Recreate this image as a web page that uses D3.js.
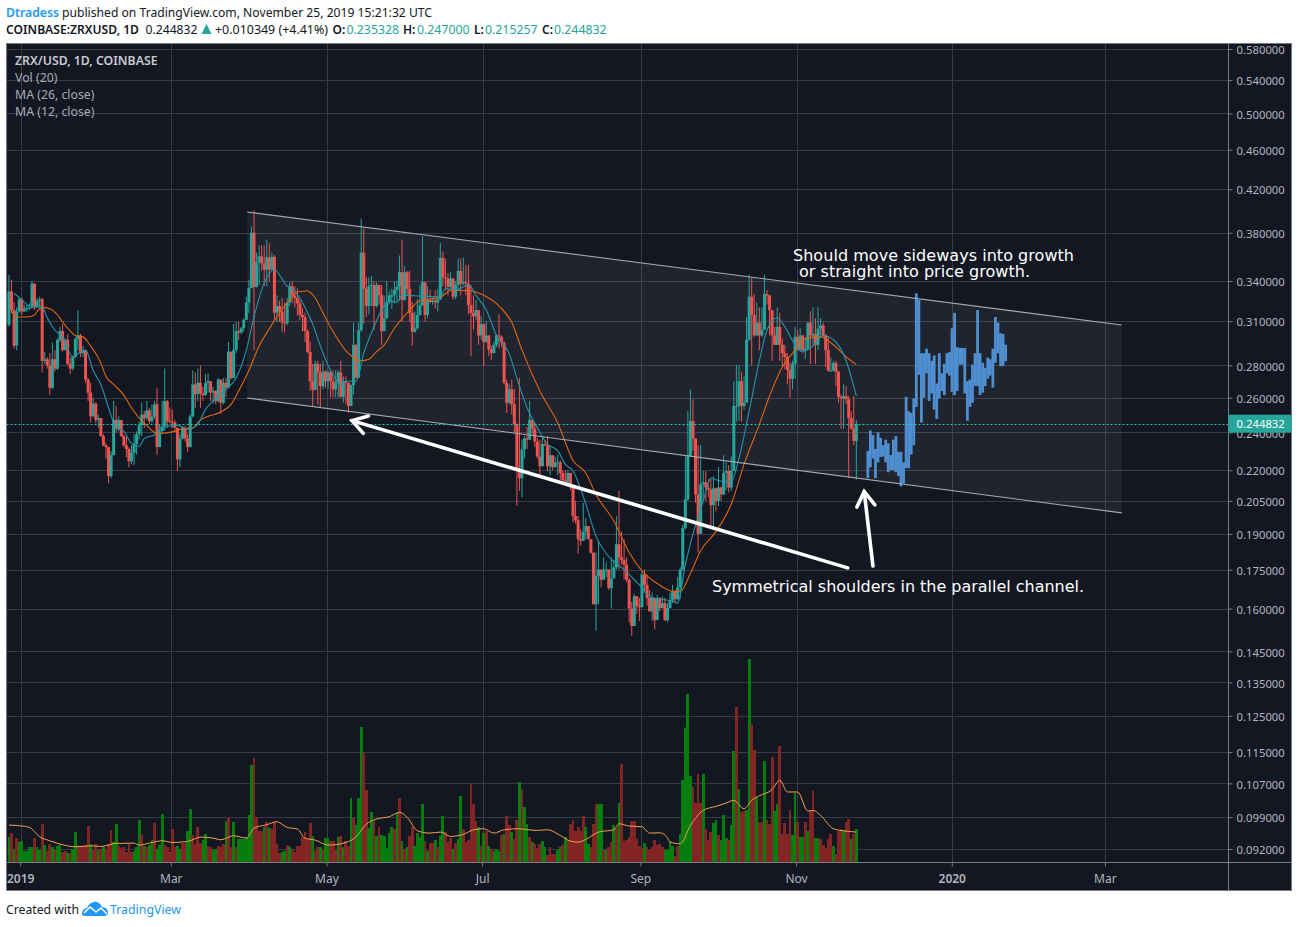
<!DOCTYPE html>
<html><head><meta charset="utf-8">
<script src="https://cdn.jsdelivr.net/npm/d3@7"></script>
<style>
html,body{margin:0;padding:0;background:#fff}
svg{display:block}
text{font-family:"Noto Sans",sans-serif}
</style></head><body><div id="c"></div>
<script>
// prices are in thousandths of a US dollar (mUSD); bars are daily and start 2018-12-28
const firstDay = Date.UTC(2018,11,28);
const firstOpen = 307.5;
const closes = [
332,318,293,317,326,317,319,319.5,320,338,320,
325,326,283,284,280,266,284,278,297,303,
290,297,281,278,285.5,297.5,300,288,290,271,
263,249,256.5,247,248,238,233,232,217,227.7,
247,242,247,238,233,231,224.6,229,233.7,239,244,
250,248,252.5,246.3,249,256,232,240.7,243.5,258,
246.3,246,245.5,242.5,225.5,236.7,242.5,236.7,232,249,
268,262,269,262.5,261.5,268.8,270,263,264,258,
271,257,269,266,289,272,290,303,302,305,
311,323.6,334.5,380,335.5,355,360,354,349,359,
349,359.5,316,321,317,309,308.5,323.5,336,329,
327,323,314.5,313,303,288.8,270,264.6,281,275.5,
267,276,270,275.5,270,265,269,275.5,
260.5,270,269,255,267.5,293.6,272.3,303.6,363,334,
321,336,337,321,337,329.3,303,312,324,329,
329,333,335.5,347,325.6,347,334,316,302.6,305,
314.5,321.6,339,314.5,325.6,324,325,323.6,326,358.6,
343,342,335.5,342,328,337,348,338,339,338,
321.6,316,313.4,318,300,308,295.5,300,290.4,288,
293.6,300,299,295,269,257,265,256,244.6,220.5,
216,230.8,236.7,236,247,242,235,227,222,233.7,
233,222,227.7,221.5,224,224,218.6,215,214,218.6,
211.4,197.9,196,187.7,187,191,193.5,187.7,182,161.6,
172.5,175,171,175,175,167.7,171.5,176,185.5,180,
179,177,171,160,153.7,164.6,161,160.5,173,169,
164,159,164,155.8,164,160.2,162,155.8,160.2,163,
166.5,163.5,168,175,192.6,205.7,227.2,246.3,236.7,208,
190,213,214,211.4,210.5,203,211,205,211.4,208,
218.6,219.6,211.4,219.6,255,255,270,255,257,297,
328,314.5,300,309,300,304,330,329,318,300,
293.6,306,293.6,288,285.5,277,271.5,281,299,290,
300,290,291,309,300,301,293.6,304.8,307,300,
290,276.7,276.7,281.6,276,260.5,259.5,261,259,248,
242,235.3,244.832];
const highs = [
345,341,324,320,327,327,322,322,323,340,337,
327,328,327,289,285.5,288,295,290,298,306,
308,298,301,285,286.5,299,318,301,293,288,
272,269,260,257,250,248,239,234,232,230,
258,255,249,247,239,237.7,232,233,239,240.5,246,
257,252,258,254,256,258,266,244.5,258,278,
258.5,254,253,247,242.5,239,243.5,243.5,239,250,
276.7,275.5,278,280,266.5,274.5,275,270,266.5,264.5,
272,271,272,272,295.5,288,308,309.5,309.5,306,
312,328,341,385.5,400,363,369,369,369,374,
371,363,361,329,325,327,323.5,327,339,340,
336,334.5,325.6,319.5,316,304,296,281,283,283,
281,283,277,277,277,276.7,277,277,
283,273,273,267.5,268,309,294,309,392.5,384,
343,343,344,340,339,337,337,329,340,332,
334,340,340,360.6,374,352,348,348,324,317,
326,337,377,338,336,333,327,333,334,371,
364,358,346,347,341,340,358,358,359,353,
353,337,329,325.6,318,313.5,308,310,300,293,
296,301,315,300,296,271,268,271,265,245,
272,236,238,243,258,247,245,237,236,237,
236,238,233,227,227,228,225,220,220,220,
218,211.4,205,198,192,204,197,193.5,187.7,182,
182,187,175,180,178,175,180,179,198,209.7,
191,187.7,180,171.5,162.5,165.5,164.6,164,174,175,
173,167,166,164,165,164,164.5,164,162,166,
169,167,172,176,194,227,252,264.8,259,236.7,
233,233,219.6,219.6,215.5,215.5,217,211.4,221.5,212,
227.7,224,222.5,227,270,280,280,276,273,313,
345,342.5,330,323.5,320,320,345,333,329,318,
306,320,316,298,293.6,288,282,283,306,303.5,
305,300,298,309,317,320,312,320,312,309,
301,299,285,283,283,276.7,262,268,267,261,
252,261,247];
const lows = [
306,316,291,290,316,314.5,317,317,318,319,318,
319.5,320,275.5,281,278,261.5,265,276,277,295.5,
289,290,280,274.5,276.7,285,290,285.5,285.5,269,
258,245.5,249,245,242.5,237.5,232.5,226,213.5,216,
232,240,240.7,237.5,232,226.6,221.5,223,222.5,228,236,
238,242.5,247,244.5,245,247.5,227.7,232,239,241,
242.5,245,242.5,240.7,219.6,221.5,236,235,229.5,232,
248.5,254,258,254,258,261,263,258,256.5,256,
257,250.5,256,260.5,265.5,271,272,288,297,301,
302.5,311,316,335,290,335,337,348,336,336,
340,349,311,309.5,309.5,302.6,302,307,321,323,
320,314,311,303,295.5,288,264,255,264.6,256,
254,265,266,265.5,260,260,260,260,
260,257,256,251,259.5,262,271.5,272,302.6,308,
313,315,321,303.6,320,322,293.6,307,312,322,
319,323,325,325,309.5,325,329,309.5,292.8,302,
304,314,321,310,312,323,322,319,317,325.6,
336,333,329,333,326,326,333,329,337,329,
315,286,304,311,293.6,297,279.5,295,286,283.5,
288,292,291,292,268,251,256,250,240,202.8,
209.7,206.7,226,231,236,239,232,226,217,222,
232.5,219.5,217.5,220,221.8,217.5,215,213.5,212,212,
210,195,194.5,181.6,185,187,187.7,187.5,181.5,161.5,
152,161.6,168,171,172,167,160,171.5,175,175,
177,171,170,155,150.3,153.7,158,155.5,160.5,166,
161,158.8,155.5,152.5,155.8,159,160,155.5,155,160,
162,162,163,163.5,174.5,192,205,227,230,204,
182,190,205,205,206.6,192.6,192.6,200,202.5,205,
209.7,210,209,209.7,219.6,246,246.5,246,253,257,
296,280,299,300,290,299,305,322,300,283,
293.5,293.6,283,279,277.5,268,260,265,271.5,290,
289,288,284,290,281,293.6,281,290,300,299,
279,276,276,276,267,257,242,242,256,216,
241.5,233,215.257];
// volume in arbitrary units; the sign marks an up day (+) or a down day (-)
const volumes = [
77,-89,40,-73,60,65,33,33,45,47,
-73,45,37,-115,53,-33,-55,47,-40,50,
53,-30,-35,27,-29,40,90,-47,-50,-50,-53,
-110,55,-37,-55,37,-41,45,-40,-55,-97,60,
116,-50,-43,-45,-32,-55,-32,33,47,128,
-83,50,-45,53,67,-119,40,52,145,-53,
-45,-30,-99,-47,50,40,-57,-57,95,161,
-83,-55,-105,-57,67,85,-50,-47,37,40,
-50,-47,-55,123,-133,-45,122,-45,70,70,
70,75,143,293,-313,-137,-95,-95,107,-120,
103,-100,-120,-55,-27,30,33,-53,47,-37,
-30,-50,-50,-75,-90,-70,-117,80,-33,-47,
47,-40,73,73,-65,-63,-37,77,
-80,45,-63,-50,193,-133,113,193,405,-327,
-218,102,152,-125,80,-105,82,80,42,87,
107,-100,148,-193,65,-40,45,-80,-105,50,
89,77,175,-65,35,-57,
-58,68,-46,78,138,-91,-61,-74,41,-58,
71,198,-99,-61,-68,-236,-174,-123,106,-48,
88,-94,48,-41,33,41,33,-81,84,-138,
-111,91,-71,-126,240,-219,165,114,-76,61,
-54,-43,-54,64,46,-23,-45,-24,-24,38,
46,-51,76,-66,-116,-126,-93,-106,-93,-138,
105,54,-46,-116,-176,174,174,-38,38,-46,
-62,111,-103,177,-294,-63,-68,-76,-123,-123,
-71,-48,-44,58,-46,-38,-46,-66,-52,-54,
-46,36,36,63,48,-18,-48,84,248,402,
504,258,-226,-178,-264,-178,266,-99,-68,-91,
118,126,-83,66,141,74,-66,111,333,-466,
219,-152,-153,156,609,-411,-336,196,-121,-121,
303,-126,-116,-316,153,174,-348,-84,-118,-84,
-156,81,209,-121,76,76,-121,94,-156,-213,
72,74,-70,-51,-44,-71,-86,49,-26,-94,
-101,96,-121,-129,69,-84,99];
// moving averages as [bar index, value]
const ma26 = [[1,317],[3,313],[7,313],[10,314.5],[11,317],[13,320],[16,319],[19,314.5],[21,309.5],[23,305],[26,300],[29,299],[32,292.8],[36,281.6],[38,273],[41,268],[45,261.5],[48,254],[51,248],[55,242.5],[57,240],[60,239.5],[64,240.3],[68,242],[72,242.5],[75,247],[78,249],[83,251.5],[87,256],[90,264],[94,276.7],[98,292.8],[102,304.6],[106,316],[110,325.6],[113,331.5],[117,332.3],[120,327],[123,316],[127,302.6],[133,287.8],[138,283],[141,284],[144,289],[147,293.6],[151,305],[156,316],[161,325],[169,327.5],[173,332.7],[180,332.7],[186,329],[192,321],[197,309],[201,290],[208,264],[215,245.3],[221,225],[226,218.6],[230,208],[237,195.7],[243,182],[248,174.5],[254,169.5],[260,166.5],[263,166.4],[267,173.5],[271,182.8],[277,191],[283,203.5],[288,223],[294,244.5],[298,261],[303,279],[308,290],[312,298],[318,299],[323,293.6],[328,285.5],[332,280.5]];
const ma12 = [[2,330.6],[5,325.6],[8,321],[13,320],[15,312.5],[18,303.6],[21,299],[25,285.5],[28,288.8],[30,290],[33,276.7],[36,268],[39,254],[42,242.5],[45,240.7],[48,234],[51,232.5],[53,236.7],[57,238.7],[60,242.5],[66,244],[70,241.7],[74,244.5],[77,253],[80,258],[85,265],[89,272],[93,290],[96,313],[100,338.6],[104,349],[109,336],[112,332.3],[116,320],[119,308],[122,292.8],[126,276.7],[130,268],[132,270],[136,270],[139,288],[143,306],[146,318],[149,324.5],[152,324],[154,329],[161,328.5],[169,327.8],[171,334],[175,333],[180,337],[183,329],[187,318],[191,300],[196,287.7],[199,272],[203,254],[207,242.5],[211,233.5],[215,230],[218,223],[221,219.6],[226,203.5],[230,189],[234,181.6],[241,175],[247,169],[252,164],[260,162.8],[262,162],[265,177],[268,190],[272,205],[275,216],[279,214.5],[283,214.5],[286,226],[290,252],[294,283],[297,303.6],[301,312.5],[304,306],[308,293.6],[311,289],[315,292.8],[319,300],[324,295.5],[328,283],[332,261]];
const volMa = [[0,112],[4,110],[8,105],[12,77],[16,65],[21,53],[26,47],[32,50],[36,48],[42,57],[49,58],[51,52],[55,58],[60,65],[64,60],[70,63],[75,76],[80,73],[83,68],[88,80],[93,73],[96,103],[101,113],[105,122],[109,105],[113,100],[116,73],[120,67],[125,52],[132,60],[136,77],[140,115],[144,130],[149,137],[153,150],[156,135],[160,95],[165,88],[169,91],[173,78],[178,84],[182,98],[186,101],[190,88],[194,98],[199,101],[207,96],[211,98],[216,81],[220,64],[223,61],[226,69],[231,91],[237,98],[239,116],[243,109],[248,107],[251,88],[255,89],[258,74],[259,61],[263,56],[267,111],[272,156],[277,168],[281,178],[284,186],[288,161],[291,186],[294,200],[299,218],[302,246],[305,211],[309,211],[313,154],[315,156],[318,141],[323,101],[326,96],[332,91]];
// projected (bars pattern) path, one high/low per day from 2019-11-29
const ghostFirstDay = Date.UTC(2019,10,29,12);
const ghostHighs = [230,241,238.5,231,240,237,233,236,234,227.8,236,238,229.5,229.5,224,260.5,252,251,259.5,330.5,325.5,288,288,291,288,283,286.5,268.5,288,275,281,288,288.7,305,316,292,291.5,291.5,291.5,270,271,280.5,288,318,288,281.7,278.5,285,284,291,313,309,301.5,301,293.7];
const ghostLows = [216,221.5,226,216,224,226.8,227,224,219,220,220,219,217,212,213.5,221,221,228,233,254.5,274,245.5,260,275,258,262.5,253,247.5,259.5,264,261.5,275,273.5,263.5,261.5,264,280.5,280.5,262.5,246.5,254.5,257,267,267,261.5,263,267,271.5,273.5,266,281.7,288,279.5,279.5,282.7];
const priceTicks = [580,540,500,460,420,380,340,310,280,260,240,220,205,190,175,160,145,135,125,115,107,99,92];
const timeTicks = [[Date.UTC(2019,0,1),"2019"],[Date.UTC(2019,2,1),"Mar"],[Date.UTC(2019,4,1),"May"],[Date.UTC(2019,6,1),"Jul"],[Date.UTC(2019,8,1),"Sep"],[Date.UTC(2019,10,1),"Nov"],[Date.UTC(2020,0,1),"2020"],[Date.UTC(2020,2,1),"Mar"]];
const lastPrice = 244.832;
// channel corners and arrows as [date, mUSD]
const channelTop = [[Date.UTC(2019,2,30,17),398.6],[Date.UTC(2020,2,7,10),307.3]];
const channelBottom = [[Date.UTC(2019,2,30,17),259.8],[Date.UTC(2020,2,7,10),199.4]];
const arrowLong = [[Date.UTC(2019,10,21),175.7],[Date.UTC(2019,4,10,20),246.6]];
const arrowShort = [[Date.UTC(2019,10,30,22),176.5],[Date.UTC(2019,10,27,12),209.4]];
const legendLines = ["ZRX/USD, 1D, COINBASE","Vol (20)","MA (26, close)","MA (12, close)"];

const W=1298,H=927, L=6.5,R=1291.5,T=43.5,B=890.5, AX=1228.5, TY=862.5;
const DAY=864e5, barShift=-1.5;
const svg=d3.select("#c").append("svg").attr("width",W).attr("height",H);
const x=d3.scaleUtc().domain([Date.UTC(2019,0,1),Date.UTC(2020,2,1)]).range([20.7,1105.4]);
const y=d3.scaleLog().domain([92,580]).range([849,49]);
const v=d3.scaleLinear().domain([0,609]).range([TY,659]);
const bx=i=>x(firstDay+i*DAY)+barShift;

svg.append("rect").attr("x",L).attr("y",T).attr("width",R-L).attr("height",B-T).attr("fill","#131722");

// grid
const grid=svg.append("g").attr("stroke","#363a49").attr("shape-rendering","crispEdges");
grid.selectAll(".h").data(priceTicks).join("line").attr("x1",L).attr("x2",AX).attr("y1",d=>Math.round(y(d))+.5).attr("y2",d=>Math.round(y(d))+.5);
grid.selectAll(".v").data(timeTicks).join("line").attr("y1",T).attr("y2",TY).attr("x1",d=>Math.round(x(d[0]))+.5).attr("x2",d=>Math.round(x(d[0]))+.5);

// channel
const pt=d=>[x(d[0]),y(d[1])];
svg.append("path").attr("fill","#ffffff").attr("fill-opacity",.06)
  .attr("d",d3.line()([pt(channelTop[0]),pt(channelTop[1]),pt(channelBottom[1]),pt(channelBottom[0])])+"Z");

// volume
svg.append("g").attr("shape-rendering","crispEdges").selectAll("rect").data(volumes).join("rect")
  .attr("x",(d,i)=>bx(i)-1.4).attr("width",2.8)
  .attr("y",d=>v(Math.abs(d))).attr("height",d=>TY-v(Math.abs(d)))
  .attr("fill",d=>d>=0?"#057d0f":"#842525");
svg.append("path").attr("fill","none").attr("stroke","#f5a04a").attr("stroke-width",1)
  .attr("d",d3.line().curve(d3.curveMonotoneX).x(d=>bx(d[0])).y(d=>v(d[1]))(volMa));

// candles
const candles=closes.map((c,i)=>({i,c,o:i?closes[i-1]:firstOpen,h:highs[i],l:lows[i]}));
const up="#26a69a",down="#ef5350";
const cg=svg.append("g");
cg.selectAll("line").data(candles).join("line")
  .attr("x1",d=>bx(d.i)).attr("x2",d=>bx(d.i))
  .attr("y1",d=>y(Math.max(d.h,d.o,d.c))).attr("y2",d=>y(Math.min(d.l,d.o,d.c)))
  .attr("stroke",d=>d.c>=d.o?up:down).attr("stroke-width",1);
cg.selectAll("rect").data(candles).join("rect")
  .attr("x",d=>bx(d.i)-1.5).attr("width",3)
  .attr("y",d=>y(Math.max(d.o,d.c))).attr("height",d=>Math.max(1,Math.abs(y(d.o)-y(d.c))))
  .attr("fill",d=>d.c>=d.o?up:down);

// moving averages
const maLine=d3.line().curve(d3.curveMonotoneX).x(d=>bx(d[0])).y(d=>y(d[1]));
svg.append("path").attr("fill","none").attr("stroke","#e2650f").attr("stroke-width",1.1).attr("d",maLine(ma26));
svg.append("path").attr("fill","none").attr("stroke","#2196a9").attr("stroke-width",1.1).attr("d",maLine(ma12));

// projection
svg.append("g").selectAll("rect").data(ghostHighs).join("rect")
  .attr("x",(d,i)=>x(ghostFirstDay+i*DAY)+barShift-1.4).attr("width",2.8)
  .attr("y",d=>y(d)).attr("height",(d,i)=>y(ghostLows[i])-y(d)).attr("fill","#4f8fd1");

// channel borders
[channelTop,channelBottom].forEach(c=>svg.append("line")
  .attr("x1",x(c[0][0])).attr("y1",y(c[0][1])).attr("x2",x(c[1][0])).attr("y2",y(c[1][1]))
  .attr("stroke","#a6a8af").attr("stroke-width",1.1));

// last price line
svg.append("line").attr("x1",L).attr("x2",AX).attr("y1",Math.round(y(lastPrice))+.5).attr("y2",Math.round(y(lastPrice))+.5)
  .attr("stroke","#22c9b6").attr("stroke-dasharray","2 2").attr("stroke-width",1);

// arrows
function arrow(a,wd){
  const t=pt(a[0]),p=pt(a[1]),ang=Math.atan2(t[1]-p[1],t[0]-p[0]),s=17,o=Math.PI/5.6;
  const g=svg.append("g").attr("fill","none").attr("stroke","#fff").attr("stroke-width",wd).attr("stroke-linecap","round");
  g.append("line").attr("x1",t[0]).attr("y1",t[1]).attr("x2",p[0]).attr("y2",p[1]);
  g.append("path").attr("d",d3.line()([[p[0]+s*Math.cos(ang-o),p[1]+s*Math.sin(ang-o)],p,[p[0]+s*Math.cos(ang+o),p[1]+s*Math.sin(ang+o)]]));
}
arrow(arrowLong,3.6);
arrow(arrowShort,3.6);

// frame
const fr=svg.append("g").attr("stroke","#787b86").attr("fill","none").attr("shape-rendering","crispEdges");
fr.append("rect").attr("x",L).attr("y",T).attr("width",R-L).attr("height",B-T);
fr.append("line").attr("x1",AX).attr("x2",AX).attr("y1",T).attr("y2",B);
fr.append("line").attr("x1",L).attr("x2",R).attr("y1",TY).attr("y2",TY);

// axes
const yAxis=d3.axisRight(y).tickValues(priceTicks).tickSize(4).tickPadding(4).offset(0).tickFormat(d=>(d/1000).toFixed(6));
const ya=svg.append("g").attr("transform",`translate(${AX},0.5)`).call(yAxis);
ya.select(".domain").remove();
ya.selectAll("line").attr("stroke","#787b86");
ya.selectAll("text").attr("dy",".42em").attr("fill","#b2b5be").style("font-size","11.3px").style("font-family",'"Noto Sans",sans-serif');
const tickText=new Map(timeTicks);
const xAxis=d3.axisBottom(x).tickValues(timeTicks.map(d=>d[0])).tickSize(4).tickPadding(8).offset(0).tickFormat(d=>tickText.get(+d));
const xa=svg.append("g").attr("transform",`translate(0,${TY})`).call(xAxis);
xa.select(".domain").remove();
xa.selectAll("line").attr("stroke","#787b86");
xa.selectAll("text").attr("fill","#b2b5be").style("font-size","12px").style("font-family",'"Noto Sans",sans-serif')
  .style("font-weight",(d)=>/^\d/.test(tickText.get(+d))?"600":"400");

// last price label
svg.append("rect").attr("x",AX).attr("y",y(lastPrice)-9).attr("width",R-AX).attr("height",18).attr("fill","#26a69a");
svg.append("text").attr("x",1236.5).attr("y",y(lastPrice)+4.5).attr("fill","#fff").style("font-size","11.3px").text((lastPrice/1000).toFixed(6));

// legend
svg.append("g").selectAll("text").data(legendLines).join("text")
  .attr("x",15).attr("y",(d,i)=>64.5+i*17).style("font-size","12.3px")
  .style("font-weight",(d,i)=>i?400:600).attr("fill",(d,i)=>i?"#a8abb5":"#c8cad0").text(d=>d);

// annotation text
const note=(s,xx,yy,len)=>svg.append("text").attr("x",xx).attr("y",yy).attr("fill","#fff")
  .attr("textLength",len).attr("lengthAdjust","spacing")
  .style("font-family",'"DejaVu Sans",sans-serif').style("font-size","16px").text(s);
note("Should move sideways into growth",793,261,281);
note("or straight into price growth.",799,277,231);
note("Symmetrical shoulders in the parallel channel.",712,592,372);

// header
const hdr=(s,xx,yy,col,w,len)=>{const t=svg.append("text").attr("x",xx).attr("y",yy).attr("fill",col)
  .style("font-size","12px").style("font-weight",w||400).text(s); if(len)t.attr("textLength",len).attr("lengthAdjust","spacingAndGlyphs");return t;};
hdr("Dtradess",6,17,"#2196f3",600,53);
hdr("published on TradingView.com, November 25, 2019 15:21:32 UTC",62,17,"#131722",400,370);
hdr("COINBASE:ZRXUSD, 1D",6,34,"#131722",600,133);
hdr("0.244832",145.5,34,"#131722",400,52);
svg.append("path").attr("fill","#26a69a").attr("d",d3.line()([[206.5,24],[211.5,34],[201.5,34]])+"Z");
hdr("+0.010349 (+4.41%)",215,34,"#131722",400,113);
const ohlc=[["O:",332.5,"0.235328",346.5],["H:",403,"0.247000",417],["L:",474,"0.215257",485],["C:",542,"0.244832",554]];
ohlc.forEach(o=>{hdr(o[0],o[1],34,"#131722",600);hdr(o[2],o[3],34,"#26a69a",400,52.5);});

// footer
hdr("Created with",6,914,"#131722",400,73);
const logo=svg.append("g").attr("transform","translate(82,901)");
logo.append("path").attr("fill","#2196f3").attr("d","M0 13 C0 9 3 7 5 7 C7 2 12 0 15 1 C18 2 19 4 20 6 C24 6 26 9 26 12 C26 14 24 15 22 15 L3 15 C1 15 0 14 0 13Z");
logo.append("path").attr("fill","none").attr("stroke","#fff").attr("stroke-width",1.6).attr("d","M2 12 L8 6 L14 11 L19 7 L25 13");
hdr("TradingView",110,914,"#2196f3",400,71);
</script></body></html>
